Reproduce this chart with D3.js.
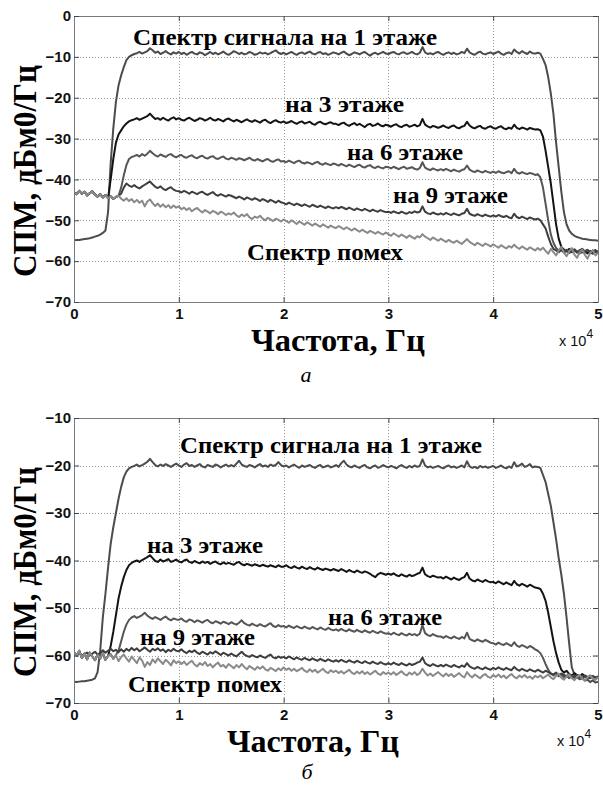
<!DOCTYPE html>
<html>
<head>
<meta charset="utf-8">
<script src="https://cdn.jsdelivr.net/npm/d3@7"></script>
<style>
  body { margin: 0; background: #fff; }
  svg { display: block; }
</style>
</head>
<body>
<svg id="chart" width="603" height="787"></svg>
<script>
// Spectra are sampled every 250 Hz from 0 to 50 kHz
const freqStep = 250;

const xTicks = [0, 10000, 20000, 30000, 40000, 50000];
const xTickLabels = ["0", "1", "2", "3", "4", "5"];
const yTicksA = [-70, -60, -50, -40, -30, -20, -10, 0];
const yTicksB = [-70, -60, -50, -40, -30, -20, -10];

// ---- panel a: PSD, dBm0/Hz ----
const aFloor1 = [
-54.9,-54.8,-54.8,-54.7,-54.6,-54.5,-54.4,-54.2,-54.0,-53.8,-53.5,-53.1,-52.5,-48.0,-36.0,-27.5,-21.0,-17.0,-14.5,-12.5,
-10.8,-10.0,-9.6,-9.3,-9.1,-8.8,-9.2,-8.9,-8.6,-7.9,-8.4,-9.0,-8.7,-9.3,-9.0,-8.6,-9.1,-9.4,-8.9,-9.2,
-8.8,-9.3,-9.0,-9.5,-9.1,-8.8,-9.2,-9.4,-8.9,-9.1,-9.6,-9.2,-8.8,-9.3,-9.0,-9.4,-9.1,-8.7,-9.2,-9.5,
-9.1,-8.6,-8.9,-9.3,-9.0,-9.4,-9.2,-8.8,-9.1,-9.5,-9.3,-8.9,-9.2,-9.0,-9.4,-9.1,-8.7,-8.4,-9.0,-9.3,
-9.0,-9.4,-9.1,-8.8,-9.2,-9.5,-9.1,-8.9,-9.3,-9.0,-8.7,-9.2,-9.4,-9.0,-8.8,-9.3,-9.1,-9.5,-9.2,-8.9,
-9.1,-9.4,-9.0,-8.7,-9.2,-9.6,-9.3,-8.9,-9.1,-9.4,-9.0,-8.8,-9.3,-9.7,-9.2,-9.0,-9.4,-9.1,-8.8,-9.2,
-9.3,-9.0,-8.8,-9.2,-9.4,-9.0,-8.9,-9.3,-9.1,-8.8,-9.2,-9.4,-9.0,-7.6,-8.9,-9.3,-9.1,-9.4,-9.0,-8.8,
-9.2,-9.5,-9.1,-8.9,-9.3,-9.0,-9.4,-9.2,-8.8,-9.1,-8.0,-8.9,-9.3,-9.5,-9.0,-8.7,-9.2,-9.4,-9.1,-8.9,
-9.3,-9.0,-8.7,-9.2,-9.5,-9.1,-8.9,-9.3,-8.2,-8.8,-9.2,-8.6,-9.0,-9.3,-8.7,-9.1,-9.2,-9.0,
-9.2,-10.5,-12.0,-15.0,-19.0,-24.0,-31.0,-37.0,-43.0,-48.0,-51.0,-52.5,-53.3,-53.8,-54.1,-54.3,-54.5,-54.6,-54.7,-54.8,-54.9,-54.9,-55.0
];
const aFloor3 = [
-43.2,-43.6,-42.8,-43.5,-43.0,-43.9,-43.4,-42.9,-43.7,-44.2,-43.6,-44.4,-43.8,-44.6,-40.0,-35.0,-31.0,-29.0,-28.0,-27.0,
-26.3,-25.8,-25.5,-25.3,-25.0,-25.4,-25.1,-24.8,-24.5,-23.9,-24.6,-25.2,-25.0,-25.4,-24.9,-25.3,-25.6,-25.1,-24.8,-25.3,
-25.0,-25.4,-25.6,-25.2,-24.9,-25.3,-25.7,-25.4,-25.0,-25.2,-25.6,-25.3,-24.9,-25.4,-25.6,-25.2,-25.5,-25.8,-25.3,-25.1,
-25.5,-25.8,-25.4,-25.7,-26.0,-25.6,-25.3,-25.7,-25.9,-25.5,-25.8,-26.1,-25.6,-25.4,-25.9,-26.2,-25.8,-25.5,-25.9,-26.1,
-25.8,-26.2,-26.0,-25.7,-26.1,-26.4,-26.0,-25.8,-26.3,-26.1,-25.9,-26.4,-26.6,-26.1,-25.9,-26.3,-26.5,-26.2,-26.0,-26.4,
-26.4,-26.7,-26.3,-26.1,-26.6,-26.9,-26.5,-26.2,-26.7,-26.4,-26.8,-27.2,-26.6,-26.4,-26.9,-26.7,-26.3,-26.8,-27.0,-26.6,
-26.8,-27.1,-26.7,-26.5,-27.0,-27.2,-26.8,-26.6,-27.1,-26.9,-26.6,-27.0,-26.7,-25.2,-26.6,-27.0,-27.3,-26.9,-27.1,-27.4,
-27.1,-26.8,-27.2,-27.4,-27.0,-26.8,-27.3,-27.5,-27.1,-26.9,-25.9,-26.8,-27.3,-27.5,-27.1,-26.9,-27.4,-27.6,-27.2,-27.0,
-27.4,-27.6,-27.2,-27.0,-27.5,-27.7,-27.3,-27.6,-26.6,-27.4,-27.7,-27.3,-27.5,-27.8,-27.4,-27.6,-27.8,-27.7,
-28.0,-29.5,-33.0,-37.0,-41.0,-46.0,-51.0,-54.5,-56.5,-57.2,-57.6,-57.0,-57.8,-57.3,-57.9,-57.4,-57.0,-57.7,-58.1,-57.5,-57.8,-57.3,-57.9
];
const aFloor6 = [
-43.2,-43.6,-42.8,-43.5,-43.0,-43.9,-43.4,-42.9,-43.7,-44.2,-43.6,-44.4,-43.8,-44.6,-44.1,-44.8,-44.3,-44.0,-42.0,-39.0,
-36.5,-35.0,-34.5,-34.3,-34.0,-34.4,-33.8,-34.2,-33.7,-33.0,-33.6,-34.1,-34.4,-33.9,-34.2,-34.5,-34.0,-33.8,-34.3,-34.6,
-34.2,-34.0,-34.5,-34.7,-34.3,-34.1,-34.6,-34.8,-34.4,-34.2,-34.7,-34.9,-34.5,-34.3,-34.8,-35.0,-34.6,-34.4,-34.9,-35.1,
-34.7,-34.9,-35.2,-34.8,-35.0,-35.3,-35.0,-34.7,-35.2,-35.4,-35.0,-35.3,-35.6,-35.2,-35.0,-35.5,-35.7,-35.3,-35.1,-35.6,
-35.5,-35.8,-35.4,-35.7,-36.0,-35.6,-35.4,-35.9,-36.1,-35.8,-36.0,-36.3,-35.9,-35.7,-36.2,-36.4,-36.0,-36.3,-36.5,-36.1,
-36.3,-36.6,-36.2,-36.5,-36.8,-36.4,-36.7,-37.0,-36.6,-36.4,-36.9,-37.1,-36.7,-36.5,-37.0,-37.2,-36.8,-37.1,-37.3,-36.9,
-37.0,-37.3,-36.9,-37.2,-37.5,-37.1,-36.9,-37.4,-37.2,-37.0,-37.4,-37.6,-37.2,-35.8,-37.1,-37.5,-37.7,-37.3,-37.6,-37.8,
-37.5,-37.8,-37.4,-37.7,-38.0,-37.6,-37.9,-38.1,-37.7,-37.5,-36.6,-37.6,-38.0,-38.2,-37.8,-38.1,-38.3,-37.9,-38.2,-38.4,
-38.1,-38.4,-38.0,-38.3,-38.5,-38.2,-38.0,-38.5,-37.4,-38.3,-38.6,-38.2,-38.5,-38.7,-38.4,-38.6,-38.9,-38.7,
-39.5,-42.0,-46.0,-50.0,-53.5,-55.5,-56.8,-57.4,-57.0,-57.6,-57.2,-57.8,-57.4,-57.1,-57.7,-57.3,-57.9,-57.5,-57.2,-57.8,-57.4,-57.7,-57.5
];
const aFloor9 = [
-43.2,-43.6,-42.8,-43.5,-43.0,-43.9,-43.4,-42.9,-43.7,-44.2,-43.6,-44.4,-43.8,-44.6,-44.1,-44.8,-44.3,-44.0,-43.5,-42.0,
-41.0,-41.5,-41.8,-41.4,-41.9,-42.2,-41.7,-41.3,-40.9,-40.5,-41.2,-41.8,-42.1,-41.7,-42.3,-42.6,-42.2,-41.9,-42.5,-42.8,
-42.9,-43.2,-42.8,-43.1,-43.5,-43.0,-43.3,-43.6,-43.2,-43.0,-43.5,-43.8,-43.4,-43.1,-43.7,-44.0,-43.6,-43.9,-44.2,-43.8,
-44.0,-44.3,-44.6,-44.2,-44.5,-44.9,-44.4,-44.7,-45.0,-44.6,-44.9,-45.3,-44.8,-45.1,-45.5,-45.0,-45.3,-45.7,-45.2,-45.6,
-45.8,-46.1,-45.7,-46.0,-46.3,-45.9,-46.2,-46.5,-46.1,-46.4,-46.7,-46.2,-46.5,-46.8,-46.4,-46.7,-47.0,-46.6,-46.9,-47.1,
-46.8,-47.1,-46.7,-47.0,-47.3,-46.9,-47.2,-47.5,-47.1,-47.4,-47.6,-47.2,-47.5,-47.8,-47.4,-47.7,-47.9,-47.5,-47.8,-48.0,
-47.9,-48.2,-47.8,-48.1,-48.3,-47.9,-48.2,-48.4,-48.0,-48.2,-47.8,-48.1,-47.9,-46.6,-47.9,-48.3,-48.5,-48.1,-48.4,-48.6,
-48.3,-48.6,-48.2,-48.5,-48.7,-48.3,-48.6,-48.8,-48.4,-48.2,-47.2,-48.4,-48.7,-48.9,-48.5,-48.8,-49.0,-48.6,-48.9,-49.1,
-48.8,-49.1,-48.7,-49.0,-49.2,-48.9,-49.3,-49.5,-48.4,-49.2,-49.5,-49.1,-49.4,-49.7,-49.3,-49.6,-49.8,-49.6,
-50.0,-51.0,-52.0,-54.0,-55.8,-57.0,-57.4,-57.8,-57.3,-57.9,-57.5,-58.0,-57.6,-57.2,-57.8,-58.1,-57.6,-57.9,-57.4,-57.8,-58.2,-57.7,-58.0
];
const aNoise = [
-43.2,-43.6,-42.8,-43.5,-43.0,-43.9,-43.4,-42.9,-43.7,-44.2,-43.6,-44.4,-43.8,-44.6,-44.1,-44.8,-44.3,-44.0,-44.7,-45.2,
-44.6,-45.3,-44.8,-45.6,-45.0,-45.7,-45.2,-46.6,-45.4,-44.9,-45.8,-46.5,-45.9,-46.7,-46.1,-46.8,-46.3,-47.0,-46.4,-46.9,
-46.6,-47.3,-46.9,-47.5,-47.0,-47.8,-47.3,-47.0,-47.6,-48.1,-47.5,-47.9,-48.3,-47.7,-48.0,-48.5,-47.9,-48.2,-48.7,-48.3,
-48.6,-48.1,-48.8,-49.2,-48.6,-49.0,-48.5,-49.3,-49.7,-49.1,-49.4,-48.9,-49.6,-50.0,-49.4,-49.8,-50.2,-49.6,-49.9,-50.3,
-49.8,-50.2,-50.6,-50.0,-50.4,-50.9,-50.3,-50.7,-51.1,-50.5,-50.9,-51.3,-50.8,-51.2,-51.6,-51.0,-51.4,-51.8,-51.3,-51.7,
-51.9,-51.4,-51.8,-52.2,-51.7,-52.1,-52.5,-52.0,-52.4,-52.8,-52.3,-52.7,-53.1,-52.6,-52.9,-53.3,-52.8,-53.2,-53.5,-53.0,
-53.4,-53.8,-53.2,-53.6,-54.0,-53.5,-53.9,-54.3,-53.7,-54.1,-54.5,-53.9,-54.2,-53.4,-54.0,-54.4,-54.8,-54.2,-54.6,-55.0,
-54.5,-54.9,-55.3,-54.8,-55.2,-55.5,-55.0,-55.4,-55.8,-55.2,-54.6,-55.3,-55.7,-56.1,-55.5,-55.9,-56.3,-55.7,-56.0,-56.4,
-55.9,-56.3,-56.7,-56.1,-56.5,-56.9,-56.3,-56.7,-56.0,-56.6,-57.0,-56.4,-56.8,-57.2,-56.6,-57.0,-57.4,-56.8,
-57.3,-56.7,-57.5,-58.2,-57.0,-57.8,-58.6,-57.4,-56.5,-57.9,-58.8,-57.6,-56.8,-58.4,-59.2,-57.9,-57.1,-58.5,-59.4,-58.0,-57.3,-58.6,-58.0
];

// ---- panel b: PSD, dBm0/Hz ----
const bFloor1 = [
-65.5,-65.6,-65.5,-65.4,-65.4,-65.3,-65.2,-65.1,-64.8,-63.5,-59.0,-52.0,-47.0,-41.5,-36.5,-33.0,-30.0,-27.0,-24.5,-22.5,
-21.3,-20.6,-20.3,-20.1,-19.8,-20.2,-19.9,-19.6,-19.2,-18.6,-19.3,-19.9,-20.2,-19.8,-20.1,-19.7,-20.0,-20.3,-19.9,-19.6,
-20.0,-20.3,-19.8,-19.5,-20.1,-19.9,-20.3,-20.0,-19.7,-20.2,-20.4,-19.9,-20.1,-20.3,-19.8,-20.0,-20.4,-20.1,-19.8,-20.2,
-19.9,-20.2,-19.6,-19.0,-19.8,-20.1,-20.3,-19.9,-20.1,-20.4,-20.0,-19.7,-20.2,-20.0,-20.3,-19.8,-20.1,-19.9,-19.3,-19.9,
-20.2,-20.0,-20.4,-20.1,-19.8,-20.2,-20.5,-20.0,-20.3,-20.1,-19.9,-20.3,-20.5,-20.1,-19.9,-20.4,-20.2,-20.0,-20.4,-20.2,
-19.9,-20.3,-19.5,-19.0,-19.8,-20.2,-20.4,-20.0,-20.3,-20.5,-20.1,-19.9,-20.4,-20.6,-20.2,-20.0,-20.5,-20.3,-19.9,-20.2,
-20.4,-20.1,-20.3,-20.6,-20.2,-19.9,-20.3,-20.5,-20.1,-20.4,-20.0,-20.3,-20.1,-18.7,-20.0,-20.4,-20.2,-20.5,-20.3,-20.1,
-20.4,-20.6,-20.2,-20.0,-20.4,-20.2,-20.5,-20.3,-20.0,-20.4,-19.1,-20.2,-20.5,-20.3,-20.6,-20.1,-20.4,-20.2,-20.5,-20.3,
-20.1,-20.5,-20.3,-20.0,-20.4,-20.6,-20.2,-20.5,-19.3,-20.2,-20.0,-19.6,-20.3,-20.1,-19.7,-20.4,-20.2,-20.3,
-20.5,-22.0,-23.5,-26.0,-28.5,-32.0,-35.5,-39.5,-43.0,-47.0,-52.0,-57.5,-62.5,-64.0,-64.6,-65.0,-64.7,-65.3,-65.1,-65.6,-65.2,-65.7,-65.5
];
const bFloor3 = [
-59.3,-60.1,-59.0,-60.5,-59.6,-60.8,-59.4,-60.2,-61.0,-59.8,-60.6,-59.5,-60.9,-60.1,-58.0,-55.0,-51.5,-48.0,-45.5,-43.5,
-42.0,-41.0,-40.5,-40.2,-40.0,-40.3,-39.9,-39.6,-39.3,-38.9,-39.5,-40.1,-40.3,-39.8,-40.2,-40.0,-39.7,-40.3,-40.1,-39.8,
-40.2,-40.4,-40.0,-39.8,-40.3,-40.5,-40.1,-40.4,-40.6,-40.2,-40.5,-40.3,-40.7,-40.4,-40.2,-40.6,-40.8,-40.4,-40.7,-40.5,
-40.7,-40.9,-40.5,-40.3,-40.8,-41.0,-40.7,-40.9,-41.1,-40.8,-41.0,-41.2,-40.9,-41.1,-41.3,-41.0,-41.2,-41.4,-41.0,-41.3,
-41.3,-41.0,-41.4,-41.6,-41.2,-41.5,-41.7,-41.3,-41.6,-41.8,-41.4,-41.7,-41.9,-41.5,-41.8,-42.0,-41.7,-41.9,-42.1,-41.8,
-42.0,-42.2,-41.8,-42.1,-42.4,-42.0,-42.3,-42.5,-42.1,-42.4,-42.6,-42.3,-42.5,-42.8,-43.2,-43.5,-42.9,-42.6,-42.8,-43.0,
-42.8,-43.0,-42.7,-43.1,-43.3,-42.9,-43.2,-43.4,-43.0,-43.3,-43.1,-42.8,-42.6,-41.5,-42.9,-43.3,-43.5,-43.2,-43.4,-43.6,
-43.5,-43.8,-43.4,-43.7,-44.0,-43.6,-43.9,-44.1,-43.7,-43.5,-42.6,-43.8,-44.2,-44.4,-44.0,-44.3,-44.5,-44.1,-44.4,-44.6,
-44.5,-44.8,-44.4,-44.7,-45.0,-44.6,-44.9,-45.2,-44.3,-45.0,-45.3,-44.9,-45.2,-45.5,-45.1,-45.4,-45.7,-45.8,
-46.0,-47.0,-48.5,-51.0,-54.0,-57.0,-59.5,-61.5,-63.0,-63.6,-63.2,-63.9,-64.3,-63.7,-64.1,-64.5,-63.9,-64.4,-64.8,-64.2,-64.6,-64.9,-64.4
];
const bFloor6 = [
-59.3,-60.1,-59.0,-60.5,-59.6,-60.8,-59.4,-60.2,-61.0,-59.8,-60.6,-59.5,-60.9,-60.1,-59.7,-60.7,-59.9,-59.0,-57.0,-55.0,
-53.5,-52.5,-52.0,-51.7,-52.1,-51.8,-51.5,-51.0,-51.6,-52.0,-52.3,-51.9,-52.2,-52.5,-52.1,-51.8,-52.3,-52.6,-52.2,-52.4,
-52.5,-52.2,-52.7,-52.9,-52.4,-52.6,-53.0,-52.6,-52.8,-53.1,-52.7,-52.5,-53.0,-53.2,-52.8,-53.0,-53.3,-52.9,-53.1,-53.4,
-53.0,-53.3,-53.5,-53.1,-52.6,-53.2,-53.5,-53.7,-53.3,-53.6,-53.8,-53.4,-53.7,-53.9,-53.5,-53.2,-53.8,-54.0,-53.6,-53.9,
-53.8,-54.1,-53.7,-54.0,-54.2,-53.8,-54.1,-54.3,-53.9,-54.2,-54.4,-54.0,-54.3,-54.5,-54.1,-54.4,-54.6,-54.2,-54.5,-54.7,
-54.5,-54.8,-54.4,-54.7,-54.9,-54.5,-54.8,-55.0,-54.6,-54.9,-55.1,-54.7,-55.0,-55.2,-54.8,-55.1,-55.3,-54.9,-55.2,-55.4,
-55.3,-55.6,-55.2,-55.5,-55.7,-55.3,-55.6,-55.8,-55.4,-55.7,-55.5,-55.8,-55.4,-53.6,-55.3,-55.7,-55.9,-55.5,-55.8,-56.0,
-56.0,-56.3,-55.9,-56.2,-56.4,-56.0,-56.3,-56.5,-56.1,-56.4,-55.2,-56.5,-56.8,-57.0,-56.6,-56.9,-57.1,-56.7,-57.0,-57.3,
-57.4,-57.7,-57.3,-57.6,-57.8,-57.4,-57.7,-58.0,-57.2,-57.9,-58.2,-57.8,-58.1,-58.4,-58.0,-58.3,-58.7,-59.0,
-59.5,-60.5,-61.8,-63.0,-63.8,-64.2,-63.7,-64.4,-64.0,-64.6,-64.2,-64.8,-64.3,-64.7,-64.1,-64.6,-64.9,-64.4,-64.8,-64.3,-64.7,-65.0,-64.5
];
const bFloor9 = [
-59.5,-59.9,-59.3,-60.1,-59.7,-59.4,-60.0,-59.6,-59.2,-59.8,-59.5,-58.9,-59.4,-59.0,-58.6,-59.1,-58.8,-59.3,-58.7,-59.2,
-58.6,-59.0,-58.4,-58.9,-58.5,-59.1,-58.7,-58.3,-58.8,-59.2,-58.6,-58.9,-58.5,-59.0,-58.7,-59.3,-58.8,-59.1,-58.6,-59.0,
-59.1,-58.7,-59.2,-59.5,-59.0,-59.3,-58.9,-59.4,-59.7,-59.2,-59.5,-59.8,-59.3,-59.6,-59.1,-59.5,-59.9,-59.4,-59.7,-60.0,
-59.6,-59.9,-60.2,-59.7,-59.2,-59.8,-60.1,-60.3,-59.9,-60.2,-60.4,-60.0,-60.3,-60.5,-60.1,-59.8,-60.4,-60.6,-60.2,-60.5,
-60.3,-60.6,-60.2,-60.5,-60.8,-60.4,-60.7,-60.9,-60.5,-60.8,-61.0,-60.6,-60.9,-61.1,-60.7,-61.0,-61.2,-60.8,-61.1,-61.3,
-61.0,-61.3,-60.9,-61.2,-61.4,-61.0,-61.3,-61.5,-61.1,-61.4,-61.6,-61.2,-61.5,-61.7,-61.3,-61.6,-61.8,-61.4,-61.7,-61.9,
-61.6,-61.9,-61.5,-61.8,-62.0,-61.6,-61.9,-62.1,-61.7,-62.0,-61.8,-61.5,-61.3,-60.4,-61.6,-62.0,-62.2,-61.8,-62.1,-62.3,
-62.0,-62.3,-61.9,-62.2,-62.4,-62.0,-62.3,-62.5,-62.1,-62.4,-61.6,-62.3,-62.6,-62.8,-62.4,-62.7,-62.9,-62.5,-62.8,-63.0,
-62.6,-62.9,-62.5,-62.8,-63.0,-62.6,-62.9,-63.1,-62.4,-62.9,-63.2,-62.8,-63.1,-63.3,-62.9,-63.2,-63.4,-63.0,
-63.3,-63.6,-63.2,-63.5,-63.8,-64.0,-63.6,-64.2,-63.8,-64.1,-64.4,-63.9,-64.3,-64.6,-64.1,-64.4,-64.7,-64.2,-64.5,-64.8,-64.3,-64.6,-64.4
];
const bNoise = [
-59.3,-60.1,-59.0,-60.5,-59.6,-60.8,-59.4,-60.2,-61.0,-59.8,-60.6,-59.5,-60.9,-60.1,-59.7,-60.7,-59.9,-61.2,-60.3,-59.8,
-60.6,-61.3,-60.2,-60.9,-61.6,-60.4,-61.1,-62.4,-61.4,-62.0,-60.8,-61.5,-60.6,-61.2,-61.8,-60.9,-61.4,-62.1,-61.0,-61.6,
-61.2,-61.8,-61.3,-62.0,-61.5,-61.1,-61.9,-62.3,-61.6,-62.0,-61.4,-62.2,-61.8,-62.5,-61.9,-61.5,-62.3,-62.0,-62.6,-61.8,
-62.2,-62.7,-62.0,-62.5,-61.8,-62.4,-62.9,-62.2,-62.6,-63.0,-62.4,-62.8,-62.3,-62.9,-63.2,-62.6,-62.9,-63.3,-62.7,-63.1,
-62.5,-63.0,-62.7,-63.2,-62.8,-63.3,-63.0,-62.6,-63.2,-63.5,-62.9,-63.4,-63.0,-63.6,-63.2,-62.8,-63.4,-63.7,-63.1,-63.5,
-63.2,-63.7,-63.3,-63.8,-63.4,-63.0,-63.6,-63.9,-63.4,-63.8,-63.3,-63.9,-63.5,-64.0,-63.6,-63.2,-63.8,-64.1,-63.5,-63.9,
-63.6,-64.0,-63.5,-64.1,-63.7,-63.3,-63.9,-64.2,-63.6,-64.0,-63.5,-64.1,-63.7,-62.8,-63.6,-64.2,-63.8,-64.3,-63.9,-63.5,
-64.0,-64.4,-63.8,-64.3,-63.9,-64.5,-64.1,-63.7,-64.3,-64.6,-63.5,-64.2,-64.6,-64.0,-64.4,-64.8,-64.2,-63.9,-64.5,-64.7,
-64.1,-64.5,-64.0,-64.6,-64.2,-64.8,-64.3,-63.9,-64.5,-64.8,-64.2,-64.6,-64.1,-64.7,-64.4,-64.9,-64.3,-64.6,
-64.2,-64.8,-64.4,-64.0,-64.6,-65.0,-64.3,-63.8,-64.7,-65.1,-64.4,-64.0,-64.8,-65.2,-64.5,-64.1,-64.9,-65.3,-64.6,-64.2,-64.8,-65.1,-64.6
];

const seriesColor = {
  floor1: "#4c4c4c",
  floor3: "#141414",
  floor6: "#565656",
  floor9: "#3e3e3e",
  noise:  "#8a8a8a"
};
const drawOrder = ["floor1", "floor3", "floor6", "floor9", "noise"];

const panels = [
  {
    box: { left: 74, right: 598, top: 16, bottom: 302 },
    yDomain: [-70, 0], yTicks: yTicksA,
    series: { floor1: aFloor1, floor3: aFloor3, floor6: aFloor6, floor9: aFloor9, noise: aNoise },
    notes: [
      { text: "Спектр сигнала на 1 этаже", x0: 133, x1: 437, y: 45 },
      { text: "на 3 этаже", x0: 285, x1: 404, y: 112 },
      { text: "на 6 этаже", x0: 347, x1: 463, y: 160 },
      { text: "на 9 этаже", x0: 393, x1: 508, y: 203 },
      { text: "Спектр помех", x0: 247, x1: 403, y: 260 }
    ],
    yLabel: { x: 36, cy: 171, len: 212 },
    xLabel: { cx: 338, y: 351, len: 174 },
    caption: { text: "а", x: 306, y: 382 },
    exp: { x: 559, y: 346 }
  },
  {
    box: { left: 74, right: 598, top: 418, bottom: 703 },
    yDomain: [-70, -10], yTicks: yTicksB,
    series: { floor1: bFloor1, floor3: bFloor3, floor6: bFloor6, floor9: bFloor9, noise: bNoise },
    notes: [
      { text: "Спектр сигнала на 1 этаже", x0: 180, x1: 482, y: 453 },
      { text: "на 3 этаже", x0: 147, x1: 263, y: 553 },
      { text: "на 6 этаже", x0: 328, x1: 442, y: 625 },
      { text: "на 9 этаже", x0: 140, x1: 255, y: 645 },
      { text: "Спектр помех", x0: 128, x1: 282, y: 692 }
    ],
    yLabel: { x: 36, cy: 572, len: 210 },
    xLabel: { cx: 313, y: 752, len: 172 },
    caption: { text: "б", x: 307, y: 779 },
    exp: { x: 557, y: 746 }
  }
];

const svg = d3.select("#chart");
const serif = "'Liberation Serif', 'Times New Roman', serif";
const sans = "'Liberation Sans', Arial, sans-serif";

panels.forEach((p, pi) => {
  const b = p.box;
  const x = d3.scaleLinear().domain([0, 50000]).range([b.left, b.right]);
  const y = d3.scaleLinear().domain(p.yDomain).range([b.bottom, b.top]);
  const g = svg.append("g");

  // dotted grid
  const grid = g.append("g").attr("stroke", "#9a9a9a").attr("stroke-width", 1)
    .attr("stroke-dasharray", "1,2").attr("shape-rendering", "crispEdges");
  grid.selectAll("line.gx").data(xTicks.slice(1, -1)).enter().append("line")
    .attr("x1", d => Math.round(x(d)) + 0.5).attr("x2", d => Math.round(x(d)) + 0.5)
    .attr("y1", b.top).attr("y2", b.bottom);
  grid.selectAll("line.gy").data(p.yTicks.slice(1, -1)).enter().append("line")
    .attr("y1", d => Math.round(y(d)) + 0.5).attr("y2", d => Math.round(y(d)) + 0.5)
    .attr("x1", b.left).attr("x2", b.right);

  // spectra
  const line = d3.line()
    .x((d, i) => x(i * freqStep))
    .y(d => y(d));
  const clipId = "plotclip" + pi;
  svg.append("clipPath").attr("id", clipId).append("rect")
    .attr("x", b.left).attr("y", b.top).attr("width", b.right - b.left).attr("height", b.bottom - b.top);
  const lines = g.append("g").attr("clip-path", `url(#${clipId})`);
  drawOrder.forEach(k => {
    lines.append("path").datum(p.series[k])
      .attr("fill", "none")
      .attr("stroke", seriesColor[k])
      .attr("stroke-width", 2)
      .attr("stroke-linejoin", "round")
      .attr("d", line);
  });

  // axes on all four sides, ticks pointing inward
  const styleAxis = sel => {
    sel.selectAll(".domain").attr("stroke", "#7a7a7a");
    sel.selectAll(".tick line").attr("stroke", "#444");
    sel.selectAll("text").attr("font-family", sans).attr("font-weight", "bold")
      .attr("font-size", 15).attr("fill", "#111");
  };
  g.append("g").attr("transform", `translate(0,${b.bottom})`)
    .call(d3.axisBottom(x).tickValues(xTicks).tickFormat((d, i) => xTickLabels[i])
      .tickSizeInner(-5).tickSizeOuter(0).tickPadding(6))
    .call(styleAxis);
  g.append("g").attr("transform", `translate(0,${b.top})`)
    .call(d3.axisTop(x).tickValues(xTicks).tickFormat("").tickSizeInner(-5).tickSizeOuter(0))
    .call(styleAxis);
  g.append("g").attr("transform", `translate(${b.left},0)`)
    .call(d3.axisLeft(y).tickValues(p.yTicks).tickFormat(d3.format("d"))
      .tickSizeInner(-5).tickSizeOuter(0).tickPadding(3))
    .call(styleAxis);
  g.append("g").attr("transform", `translate(${b.right},0)`)
    .call(d3.axisRight(y).tickValues(p.yTicks).tickFormat("").tickSizeInner(-5).tickSizeOuter(0))
    .call(styleAxis);

  // curve annotations
  g.selectAll("text.note").data(p.notes).enter().append("text")
    .attr("class", "note")
    .attr("x", d => d.x0).attr("y", d => d.y)
    .attr("textLength", d => d.x1 - d.x0).attr("lengthAdjust", "spacingAndGlyphs")
    .attr("font-family", serif).attr("font-weight", "bold").attr("font-size", 23)
    .attr("fill", "#000").text(d => d.text);

  // axis titles
  g.append("text")
    .attr("transform", `translate(${p.yLabel.x},${p.yLabel.cy}) rotate(-90)`)
    .attr("text-anchor", "middle")
    .attr("textLength", p.yLabel.len).attr("lengthAdjust", "spacingAndGlyphs")
    .attr("font-family", serif).attr("font-weight", "bold").attr("font-size", 34)
    .attr("fill", "#000").text("СПМ, дБм0/Гц");
  g.append("text")
    .attr("x", p.xLabel.cx).attr("y", p.xLabel.y).attr("text-anchor", "middle")
    .attr("textLength", p.xLabel.len).attr("lengthAdjust", "spacingAndGlyphs")
    .attr("font-family", serif).attr("font-weight", "bold").attr("font-size", 31)
    .attr("fill", "#000").text("Частота, Гц");

  // x-axis exponent
  const ex = g.append("text").attr("x", p.exp.x).attr("y", p.exp.y)
    .attr("font-family", sans).attr("font-size", 14.5).attr("fill", "#111");
  ex.append("tspan").text("x 10");
  ex.append("tspan").attr("dy", -8).attr("font-size", 12).text("4");

  // panel caption
  g.append("text").attr("x", p.caption.x).attr("y", p.caption.y).attr("text-anchor", "middle")
    .attr("font-family", serif).attr("font-style", "italic").attr("font-size", 22)
    .attr("fill", "#000").text(p.caption.text);
});
</script>
</body>
</html>
